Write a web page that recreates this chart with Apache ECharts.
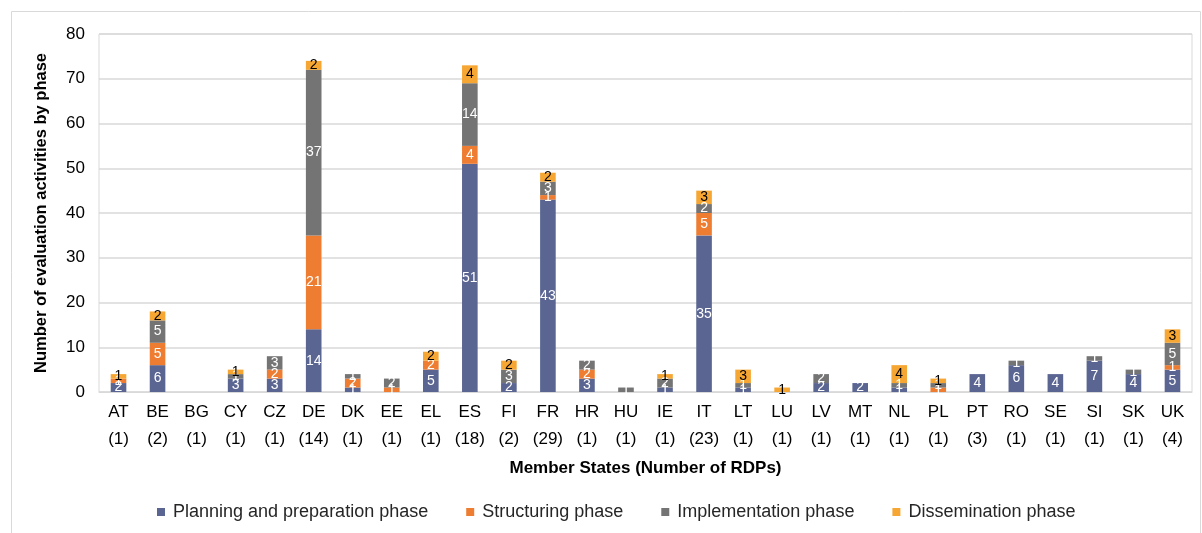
<!DOCTYPE html>
<html><head><meta charset="utf-8">
<script src="https://cdn.jsdelivr.net/npm/echarts@6/dist/echarts.min.js"></script>
<style>html,body{margin:0;padding:0;background:#fff}#c{width:1202px;height:533px}</style>
</head><body><div id="c"></div>
<script>
const categories = ['AT\n(1)','BE\n(2)','BG\n(1)','CY\n(1)','CZ\n(1)','DE\n(14)','DK\n(1)','EE\n(1)','EL\n(1)','ES\n(18)','FI\n(2)','FR\n(29)','HR\n(1)','HU\n(1)','IE\n(1)','IT\n(23)','LT\n(1)','LU\n(1)','LV\n(1)','MT\n(1)','NL\n(1)','PL\n(1)','PT\n(3)','RO\n(1)','SE\n(1)','SI\n(1)','SK\n(1)','UK\n(4)'];
const planning =      [2,6,0,3,3,14,1,0,5,51,2,43,3,0,1,35,1,0,2,2,1,0,4,6,4,7,4,5];
const structuring =   [1,5,0,0,2,21,2,1,2,4,0,1,2,0,0,5,0,0,0,0,0,1,0,0,0,0,0,1];
const implementation =[0,5,0,1,3,37,1,2,0,14,3,3,2,1,2,2,1,0,2,0,1,1,0,1,0,1,1,5];
const dissemination = [1,2,0,1,0,2,0,0,2,4,2,2,0,0,1,3,3,1,0,0,4,1,0,0,0,0,0,3];
const seriesNames = ['Planning and preparation phase','Structuring phase','Implementation phase','Dissemination phase'];
const colors = ['#5A6591','#EE7D31','#747474','#F6A633'];
const labelColors = ['#ffffff','#ffffff','#ffffff','#000000'];
const yTicks = {min:0,max:80,interval:10};

const chart = echarts.init(document.getElementById('c'));
const datas = [planning, structuring, implementation, dissemination];
const FONT = 'Liberation Sans, Arial, sans-serif';
chart.setOption({
  animation:false,
  textStyle:{fontFamily:FONT},
  graphic:[{type:'rect',shape:{x:11.5,y:11.5,width:1189,height:530},style:{fill:'none',stroke:'#d9d9d9',lineWidth:1},silent:true}],
  grid:{left:99,right:10,top:34,bottom:141,show:true,borderColor:'#d9d9d9',borderWidth:1},
  legend:{bottom:7,left:152,itemWidth:8,itemHeight:8,itemGap:38,icon:'rect',
    textStyle:{fontSize:18,color:'#262626',fontFamily:FONT,padding:[0,0,0,3]},data:seriesNames},
  xAxis:{type:'category',data:categories,name:'Member States (Number of RDPs)',nameLocation:'middle',nameGap:68,
    nameTextStyle:{fontSize:17,fontWeight:'bold',color:'#000',fontFamily:FONT},
    axisLine:{lineStyle:{color:'#d9d9d9'}},axisTick:{show:false},
    axisLabel:{fontSize:17,color:'#000',lineHeight:27,margin:7,interval:0,fontFamily:FONT}},
  yAxis:{type:'value',min:yTicks.min,max:yTicks.max,interval:yTicks.interval,
    name:'Number of evaluation activities by phase',nameLocation:'middle',nameGap:49,
    nameTextStyle:{fontSize:16.5,fontWeight:'bold',color:'#000',fontFamily:FONT},
    axisLabel:{fontSize:17,color:'#000',margin:14,fontFamily:FONT},
    splitLine:{lineStyle:{color:'#d9d9d9',width:1.5}}},
  series: datas.map((d,i)=>({
    name:seriesNames[i],type:'bar',stack:'s',data:d,barWidth:'40%',
    itemStyle:{color:colors[i]},
    label:{show:true,position:'inside',color:labelColors[i],fontSize:14,fontFamily:FONT,
      formatter:p=>p.value>0?String(p.value):''}
  }))
});
</script></body></html>
